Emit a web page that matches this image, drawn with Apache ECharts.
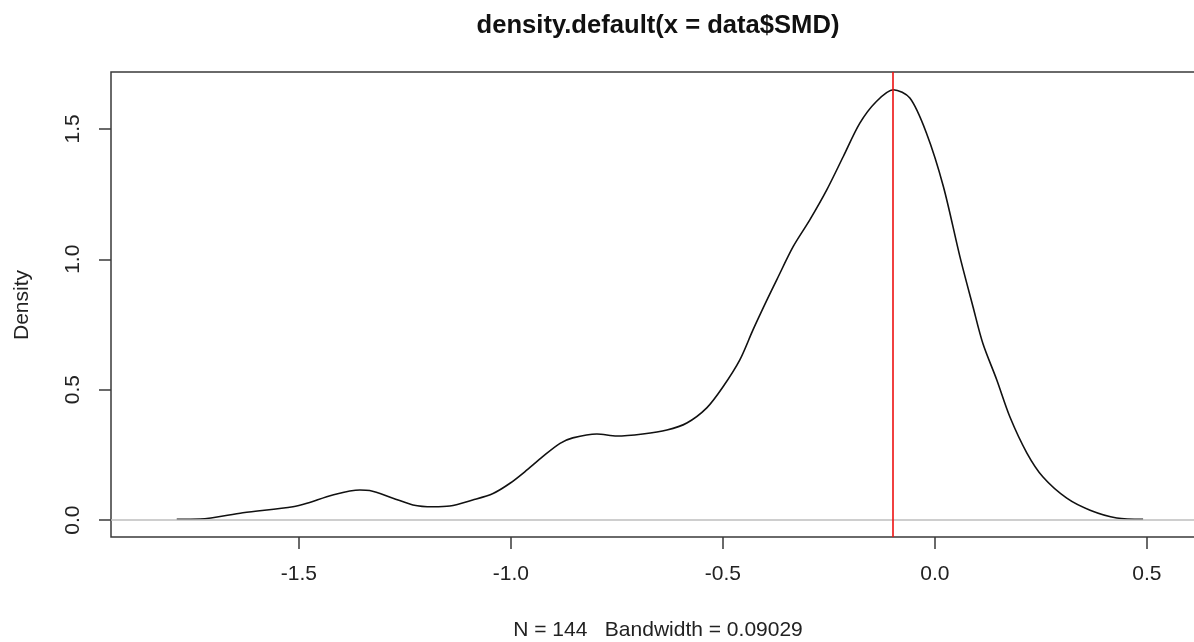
<!DOCTYPE html>
<html>
<head>
<meta charset="utf-8">
<script src="https://cdn.jsdelivr.net/npm/echarts@6/dist/echarts.min.js"></script>
<style>
  html, body { margin: 0; padding: 0; background: #fff; }
  #chart { width: 1194px; height: 642px; }
</style>
</head>
<body>
<div id="chart"></div>
<script>
// density curve (x = SMD, y = density)
const smd = [-1.788, -1.733, -1.632, -1.514, -1.481, -1.420, -1.356, -1.333, -1.278, -1.231,
  -1.184, -1.144, -1.090, -1.042, -1.002, -0.962, -0.925, -0.884, -0.854, -0.797,
  -0.750, -0.689, -0.632, -0.585, -0.538, -0.500, -0.460, -0.429, -0.396, -0.373,
  -0.334, -0.295, -0.255, -0.216, -0.177, -0.138, -0.098, -0.059, -0.020, 0.020,
  0.059, 0.090, 0.113, 0.146, 0.177, 0.217, 0.255, 0.311, 0.366, 0.429, 0.491];
const density = [0.003, 0.004, 0.028, 0.051, 0.064, 0.096, 0.115, 0.113, 0.084, 0.058,
  0.051, 0.054, 0.077, 0.102, 0.141, 0.192, 0.243, 0.294, 0.315, 0.330,
  0.322, 0.330, 0.345, 0.372, 0.430, 0.510, 0.614, 0.729, 0.844, 0.921,
  1.049, 1.151, 1.266, 1.394, 1.522, 1.605, 1.650, 1.618, 1.484, 1.279,
  1.010, 0.817, 0.678, 0.537, 0.395, 0.257, 0.165, 0.084, 0.038, 0.008, 0.003];
const xTicks = [-1.5, -1.0, -0.5, 0.0, 0.5];
const yTicks = [0.0, 0.5, 1.0, 1.5];
const peakX = -0.096; // red reference line
const titleText = 'density.default(x = data$SMD)';
const subText = 'N = 144   Bandwidth = 0.09029';

const font = '"Liberation Sans", Arial, sans-serif';
const chart = echarts.init(document.getElementById('chart'));

chart.setOption({
  animation: false,
  backgroundColor: '#fff',
  grid: {
    left: 111, top: 72, width: 1094, height: 465,
    outerBoundsMode: 'none',
    show: true, borderColor: '#3a3a3a', borderWidth: 1.5
  },
  xAxis: {
    type: 'value', min: -1.943, max: 0.637,
    axisLine: { show: false, onZero: false },
    splitLine: { show: false },
    axisTick: { show: true, length: 12, customValues: xTicks, lineStyle: { color: '#3a3a3a', width: 1.5 } },
    axisLabel: {
      customValues: xTicks, margin: 27,
      formatter: v => v.toFixed(1),
      color: '#222', fontSize: 21, fontFamily: font
    }
  },
  yAxis: {
    type: 'value', min: -0.065, max: 1.718,
    axisLine: { show: false, onZero: false },
    splitLine: { show: false },
    axisTick: { show: true, length: 12, customValues: yTicks, lineStyle: { color: '#3a3a3a', width: 1.5 } },
    axisLabel: {
      customValues: yTicks, margin: 27, rotate: 90,
      formatter: v => v.toFixed(1),
      color: '#222', fontSize: 21, fontFamily: font
    }
  },
  graphic: [
    { type: 'text', x: 658, y: 26, style: { text: titleText, fontSize: 25.6, fontWeight: 'bold', fontFamily: font, fill: '#111', align: 'center', verticalAlign: 'middle' } },
    { type: 'text', x: 658, y: 630, style: { text: subText, fontSize: 21, fontFamily: font, fill: '#222', align: 'center', verticalAlign: 'middle' } },
    { type: 'text', x: 22, y: 305, rotation: Math.PI / 2, style: { text: 'Density', fontSize: 21, fontFamily: font, fill: '#222', align: 'center', verticalAlign: 'middle' } }
  ],
  series: [{
    type: 'line',
    data: smd.map((x, i) => [x, density[i]]),
    smooth: 0.3,
    showSymbol: false,
    lineStyle: { color: '#111', width: 1.6 },
    markLine: {
      silent: true, symbol: 'none', label: { show: false },
      data: [
        { yAxis: 0, lineStyle: { color: '#bebebe', width: 1.5, type: 'solid' } },
        { xAxis: peakX, lineStyle: { color: '#ee1111', width: 1.6, type: 'solid' } }
      ]
    }
  }]
});
</script>
</body>
</html>
